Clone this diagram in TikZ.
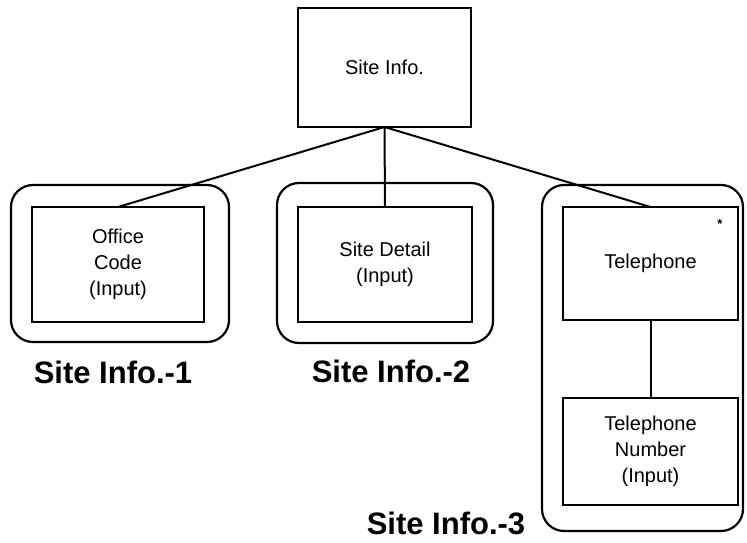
\documentclass[tikz,border=0pt]{standalone}
\usepackage{fontspec}
\setmainfont{Liberation Sans}
\begin{document}
\begin{tikzpicture}[x=1pt,y=-1pt,
  every node/.style={outer sep=0pt,inner sep=0pt},
  box/.style={draw,line width=2.2pt,rectangle,align=center,font=\fontsize{20}{26}\selectfont},
  group/.style={draw,line width=2.2pt,rectangle,rounded corners=22pt},
  glabel/.style={font=\fontsize{31}{36}\selectfont\bfseries},
  link/.style={line width=2pt}]
\useasboundingbox (0,0) rectangle (747,543);
% outer groups
\node[group,minimum width=218pt,minimum height=157pt] (g1) at (120,263.5) {};
\node[group,minimum width=216pt,minimum height=160pt] (g2) at (385,263) {};
\node[group,minimum width=201pt,minimum height=346pt] (g3) at (642.5,358) {};
% boxes
\node[box,minimum width=173pt,minimum height=119pt] (top) at (384.5,67.5) {Site Info.};
\node[box,minimum width=172pt,minimum height=115pt] (oc) at (118,264.5) {Office\\Code\\(Input)};
\node[box,minimum width=174pt,minimum height=115pt] (sd) at (385,264.5) {Site Detail\\(Input)};
\node[box,minimum width=175pt,minimum height=113pt] (tel) at (650.5,263.5) {Telephone};
\node[box,minimum width=175pt,minimum height=107pt] (num) at (650.5,451.5) {Telephone\\Number\\(Input)};
\node[font=\fontsize{13}{13}\selectfont\bfseries] (star) at (720,224) {*};
% connectors
\draw[link] (top.south) -- (oc.north);
\draw[link] (top.south) -- (sd.north);
\draw[link] (top.south) -- (tel.north);
\draw[link] (tel.south) -- (num.north);
% labels
\node[glabel] (l1) at (113,372) {Site Info.-1};
\node[glabel] (l2) at (391,371) {Site Info.-2};
\node[glabel] (l3) at (446,523) {Site Info.-3};
\end{tikzpicture}
\end{document}
